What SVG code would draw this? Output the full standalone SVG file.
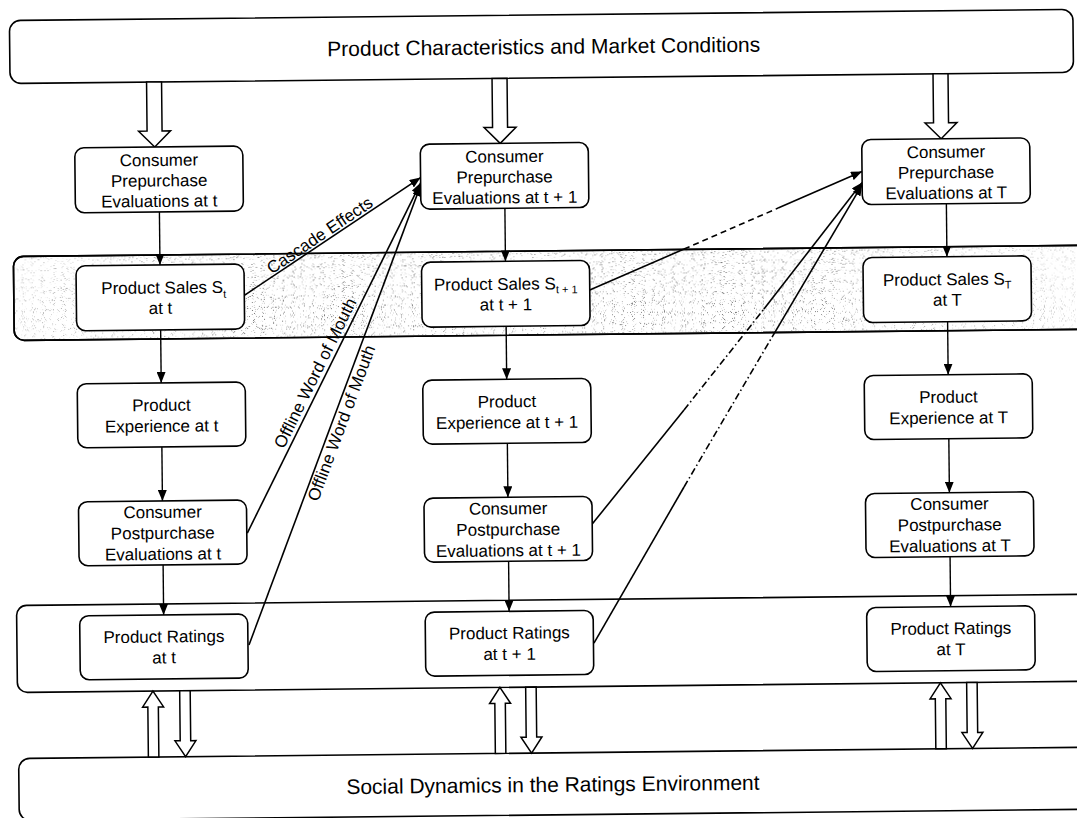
<svg xmlns="http://www.w3.org/2000/svg" width="1077" height="818" viewBox="0 0 1077 818">
<defs>
<style>
.node rect{fill:#fff;stroke:#000;stroke-width:1.6}
.band{fill:#fff;stroke:#000;stroke-width:1.6}
text{font-family:"Liberation Sans",Arial,sans-serif;fill:#000}
.t{font-size:17px;text-anchor:middle}
.title{font-size:21px;text-anchor:middle}
.sub{font-size:11px}
.lbl{font-size:17px;text-anchor:middle}
.v{stroke:#000;stroke-width:1.4;fill:none}
.arr{marker-end:url(#ah)}
.d{stroke:#000;stroke-width:1.6;fill:none}
.dash{stroke-dasharray:6 4}
.dashdot{stroke-dasharray:7 3 1.5 3}
.hollow{fill:#fff;stroke:#000;stroke-width:1.5}
</style>
<marker id="ah" markerUnits="userSpaceOnUse" markerWidth="11" markerHeight="9" refX="11" refY="4.5" orient="auto"><path d="M0,0 L11,4.5 L0,9 z" fill="#000"/></marker>
<filter id="stipple" x="0" y="0" width="1" height="1">
<feTurbulence type="fractalNoise" baseFrequency="1.1" numOctaves="1" seed="7" result="noise"/>
<feColorMatrix in="noise" type="matrix" values="0 0 0 0 0.15  0 0 0 0 0.15  0 0 0 0 0.15  9 0 0 0 -5.55" result="dots"/>
<feComposite in="dots" in2="SourceAlpha" operator="in"/>
</filter>
<linearGradient id="fade" x1="0" y1="0" x2="1" y2="0">
<stop offset="0" stop-color="#fff" stop-opacity="0.45"/>
<stop offset="0.22" stop-color="#fff" stop-opacity="0.95"/>
<stop offset="0.45" stop-color="#fff" stop-opacity="0.8"/>
<stop offset="0.7" stop-color="#fff" stop-opacity="0.95"/>
<stop offset="1" stop-color="#fff" stop-opacity="0.4"/>
</linearGradient>
<mask id="fademask" maskContentUnits="userSpaceOnUse">
<rect x="15" y="251" width="1062" height="84" fill="url(#fade)"/>
</mask>
</defs>
<rect width="1077" height="818" fill="#fff"/>
<g transform="rotate(-0.6 538 409)">
<g id="band-sales">
<rect class="band" x="15" y="251" width="1075" height="84" rx="10"/>
<rect x="15" y="251" width="1075" height="84" rx="10" fill="#000" filter="url(#stipple)" mask="url(#fademask)"/>
<rect x="15" y="251" width="1075" height="84" rx="10" fill="none" stroke="#000" stroke-width="1.6"/>
</g>
<g id="band-ratings">
<rect class="band" x="14.5" y="600" width="1075" height="87" rx="10"/>
</g>
<g id="top-box" class="node">
<rect x="13.5" y="15" width="1063.5" height="63" rx="11"/>
<text class="title" x="547.5" y="54">Product Characteristics and Market Conditions</text>
</g>
<g id="social-box" class="node">
<rect x="15" y="753" width="1075" height="62" rx="11"/>
<text class="title" x="549" y="792">Social Dynamics in the Ratings Environment</text>
</g>
<g id="connectors">
<path class="hollow" d="M150,78 V127 H141.5 L157.5,143 L173.5,127 H165 V78 Z"/>
<path class="hollow" d="M495.5,78 V127 H487 L503,143 L519,127 H510.5 V78 Z"/>
<path class="hollow" d="M936.5,78 V127 H928 L944,143 L960,127 H951.5 V78 Z"/>
<path class="v arr" d="M161.5,208 V261"/>
<path class="v arr" d="M161.5,326 V379"/>
<path class="v arr" d="M161.5,443 V497"/>
<path class="v arr" d="M161.5,561 V611"/>
<path class="v arr" d="M507,208 V261"/>
<path class="v arr" d="M507,326 V379"/>
<path class="v arr" d="M507,443 V497"/>
<path class="v arr" d="M507,561 V611"/>
<path class="v arr" d="M948.5,208 V261"/>
<path class="v arr" d="M948.5,326 V379"/>
<path class="v arr" d="M948.5,443 V497"/>
<path class="v arr" d="M948.5,561 V611"/>
<path class="d arr" d="M246,292 L423,176.4"/>
<path class="d arr" d="M246,530 L423,181.6"/>
<path class="d arr" d="M246.5,642 L423,184"/>
<path class="d" d="M591,290.5 L685.7,250.6"/>
<path class="d dash" d="M685.7,250.6 L780.2,210.6"/>
<path class="d arr" d="M780.2,210.6 L864.5,175"/>
<path class="d" d="M591,524.6 L684,411.5"/>
<path class="d dashdot" d="M684,411.5 L765,311.4"/>
<path class="d arr" d="M765,311.4 L864.5,185.9"/>
<path class="d" d="M591.5,643.6 L683.2,488.5"/>
<path class="d dashdot" d="M683.2,488.5 L772.8,339.5"/>
<path class="d arr" d="M772.8,339.5 L864.5,188.1"/>
<path class="hollow" d="M144.75,753 V703 H139.5 L150,687 L160.5,703 H155.25 V753 Z"/>
<path class="hollow" d="M176.75,687 V737 H171.5 L182,753 L192.5,737 H187.25 V687 Z"/>
<path class="hollow" d="M491.75,753 V703 H486.5 L497,687 L507.5,703 H502.25 V753 Z"/>
<path class="hollow" d="M522.75,687 V737 H517.5 L528,753 L538.5,737 H533.25 V687 Z"/>
<path class="hollow" d="M932.25,753 V703 H927 L937.5,687 L948,703 H942.75 V753 Z"/>
<path class="hollow" d="M963.75,687 V737 H958.5 L969,753 L979.5,737 H974.25 V687 Z"/>
<text class="lbl" transform="translate(324.7 237.8) rotate(-33.4)">Cascade Effects</text>
<text class="lbl" transform="translate(320.7 373.4) rotate(-63.1)">Offline Word of Mouth</text>
<text class="lbl" transform="translate(346.6 423.1) rotate(-68.9)">Offline Word of Mouth</text>
</g>
<g id="pre-t" class="node">
<rect x="77.5" y="143" width="168" height="65" rx="9"/>
<text class="t" x="161.5" y="162">Consumer</text>
<text class="t" x="161.5" y="182.5">Prepurchase</text>
<text class="t" x="161.5" y="203">Evaluations at t</text>
</g>
<g id="sales-t" class="node">
<rect x="77.5" y="261" width="168" height="65" rx="9"/>
<text class="t" x="165" y="289.5">Product Sales S<tspan class="sub" dy="5">t</tspan></text>
<text class="t" x="161.5" y="310">at t</text>
</g>
<g id="exp-t" class="node">
<rect x="77.5" y="379" width="168" height="64" rx="9"/>
<text class="t" x="161.5" y="407">Product</text>
<text class="t" x="161.5" y="428">Experience at t</text>
</g>
<g id="post-t" class="node">
<rect x="77.5" y="497" width="168" height="64" rx="9"/>
<text class="t" x="161.5" y="514">Consumer</text>
<text class="t" x="161.5" y="535">Postpurchase</text>
<text class="t" x="161.5" y="556">Evaluations at t</text>
</g>
<g id="rat-t" class="node">
<rect x="77.5" y="611" width="168" height="64" rx="9"/>
<text class="t" x="161.5" y="638.5">Product Ratings</text>
<text class="t" x="161.5" y="659.5">at t</text>
</g>
<g id="pre-t1" class="node">
<rect x="423" y="143" width="168" height="65" rx="9"/>
<text class="t" x="507" y="162">Consumer</text>
<text class="t" x="507" y="182.5">Prepurchase</text>
<text class="t" x="507" y="203">Evaluations at t + 1</text>
</g>
<g id="sales-t1" class="node">
<rect x="423" y="261" width="168" height="65" rx="9"/>
<text class="t" x="507" y="289.5">Product Sales S<tspan class="sub" dy="4">t + 1</tspan></text>
<text class="t" x="507" y="310">at t + 1</text>
</g>
<g id="exp-t1" class="node">
<rect x="423" y="379" width="168" height="64" rx="9"/>
<text class="t" x="507" y="407">Product</text>
<text class="t" x="507" y="428">Experience at t + 1</text>
</g>
<g id="post-t1" class="node">
<rect x="423" y="497" width="168" height="64" rx="9"/>
<text class="t" x="507" y="514">Consumer</text>
<text class="t" x="507" y="535">Postpurchase</text>
<text class="t" x="507" y="556">Evaluations at t + 1</text>
</g>
<g id="rat-t1" class="node">
<rect x="423" y="611" width="168" height="64" rx="9"/>
<text class="t" x="507" y="638.5">Product Ratings</text>
<text class="t" x="507" y="659.5">at t + 1</text>
</g>
<g id="pre-T" class="node">
<rect x="864.5" y="143" width="168" height="65" rx="9"/>
<text class="t" x="948.5" y="162">Consumer</text>
<text class="t" x="948.5" y="182.5">Prepurchase</text>
<text class="t" x="948.5" y="203">Evaluations at T</text>
</g>
<g id="sales-T" class="node">
<rect x="864.5" y="261" width="168" height="65" rx="9"/>
<text class="t" x="948.5" y="289.5">Product Sales S<tspan class="sub" dy="4">T</tspan></text>
<text class="t" x="948.5" y="310">at T</text>
</g>
<g id="exp-T" class="node">
<rect x="864.5" y="379" width="168" height="64" rx="9"/>
<text class="t" x="948.5" y="407">Product</text>
<text class="t" x="948.5" y="428">Experience at T</text>
</g>
<g id="post-T" class="node">
<rect x="864.5" y="497" width="168" height="64" rx="9"/>
<text class="t" x="948.5" y="514">Consumer</text>
<text class="t" x="948.5" y="535">Postpurchase</text>
<text class="t" x="948.5" y="556">Evaluations at T</text>
</g>
<g id="rat-T" class="node">
<rect x="864.5" y="611" width="168" height="64" rx="9"/>
<text class="t" x="948.5" y="638.5">Product Ratings</text>
<text class="t" x="948.5" y="659.5">at T</text>
</g>
</g>
</svg>
